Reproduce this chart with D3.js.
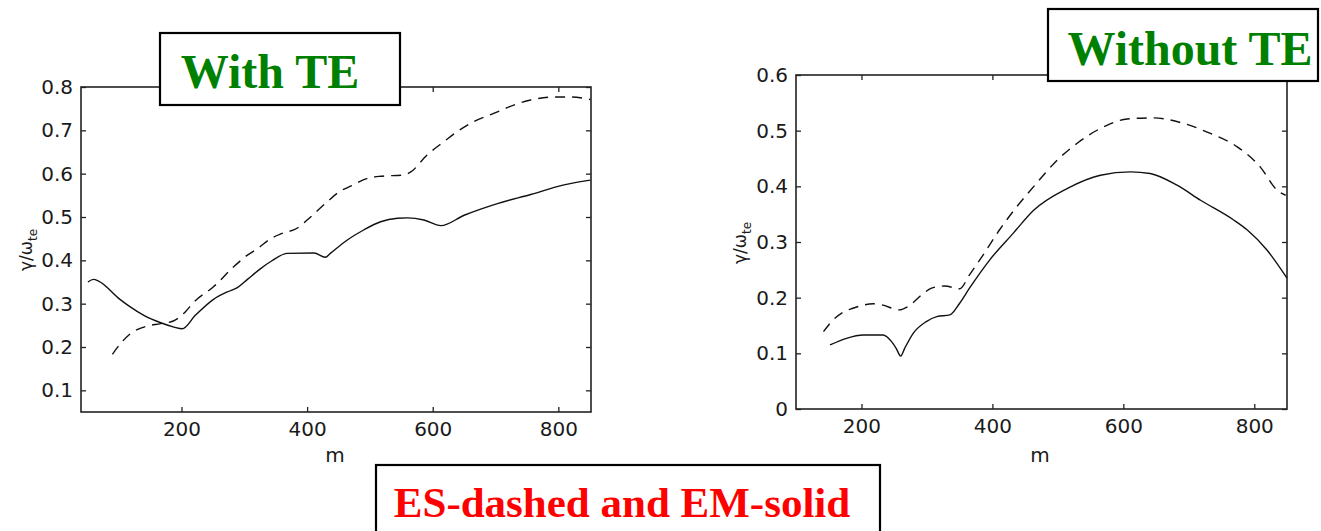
<!DOCTYPE html>
<html>
<head>
<meta charset="utf-8">
<script src="https://cdn.jsdelivr.net/npm/d3@7"></script>
<style>
    body { margin: 0; background: #fff; }
    svg { display: block; }
    .tick text { font-family: "DejaVu Sans", sans-serif; font-size: 20px; fill: #1a1a1a; }
</style>
</head>
<body>
<div id="chart"></div>
<script>
// left panel (with TE)
let withM_es = [90, 103, 119, 140, 167, 187, 206, 220, 251, 283, 305, 321, 342, 360, 384, 400, 432, 451, 469, 496, 517, 554, 565, 591, 618, 639, 665, 697, 734, 756, 793, 819, 840, 851];
let withES = [0.183, 0.208, 0.231, 0.246, 0.254, 0.260, 0.281, 0.304, 0.339, 0.385, 0.412, 0.427, 0.450, 0.462, 0.474, 0.493, 0.535, 0.558, 0.571, 0.589, 0.594, 0.597, 0.604, 0.643, 0.674, 0.697, 0.720, 0.739, 0.761, 0.770, 0.777, 0.777, 0.774, 0.771];
let withM_em = [51, 60, 68, 102, 119, 140, 167, 188, 201, 222, 251, 273, 289, 305, 326, 344, 368, 411, 429, 437, 464, 490, 517, 544, 560, 586, 613, 650, 703, 756, 809, 851];
let withEM = [0.350, 0.356, 0.352, 0.310, 0.292, 0.273, 0.256, 0.246, 0.242, 0.273, 0.310, 0.327, 0.337, 0.356, 0.381, 0.399, 0.416, 0.417, 0.407, 0.416, 0.447, 0.470, 0.489, 0.497, 0.498, 0.493, 0.480, 0.504, 0.531, 0.552, 0.574, 0.585];

// right panel (without TE)
let woM_es = [142, 152, 172, 187, 218, 231, 258, 271, 292, 307, 327, 350, 365, 386, 411, 437, 467, 499, 529, 565, 606, 646, 692, 733, 774, 809, 835, 848];
let woES = [0.139, 0.154, 0.174, 0.181, 0.189, 0.187, 0.178, 0.184, 0.205, 0.217, 0.221, 0.216, 0.241, 0.277, 0.322, 0.363, 0.405, 0.447, 0.477, 0.504, 0.521, 0.523, 0.513, 0.495, 0.471, 0.435, 0.393, 0.384];
let woM_em = [152, 177, 203, 233, 246, 253, 260, 266, 279, 299, 315, 335, 350, 365, 396, 432, 463, 514, 565, 611, 641, 682, 718, 768, 789, 819, 850];
let woEM = [0.115, 0.127, 0.133, 0.133, 0.121, 0.109, 0.095, 0.109, 0.136, 0.157, 0.166, 0.169, 0.190, 0.217, 0.268, 0.316, 0.357, 0.396, 0.420, 0.426, 0.423, 0.402, 0.375, 0.340, 0.322, 0.286, 0.235];

let xTicks = [200, 400, 600, 800];
let withYTicks = [0.1, 0.2, 0.3, 0.4, 0.5, 0.6, 0.7, 0.8];
let woYTicks = [0, 0.1, 0.2, 0.3, 0.4, 0.5, 0.6];

let svg = d3.select('#chart').append('svg')
    .attr('width', 1321)
    .attr('height', 531);

function zip(xs, ys){
    return xs.map((x, i) => [x, ys[i]]);
}

/**
 * Draws one matlab style panel: framed box, inward ticks, dashed ES and solid EM curves
 */
function drawPanel(opts){
    let x = d3.scaleLinear().domain(opts.xDomain).range([opts.left, opts.right]);
    let y = d3.scaleLinear().domain(opts.yDomain).range([opts.bottom, opts.top]);
    let g = svg.append('g');

    let yFmt = d => d === 0 ? '0' : d3.format('.1f')(d);

    g.append('g')
        .attr('transform', `translate(0,${opts.bottom})`)
        .call(d3.axisBottom(x).tickValues(xTicks).tickSize(-5).tickPadding(10))
        .call(a => a.select('.domain').remove());
    g.append('g')
        .attr('transform', `translate(0,${opts.top})`)
        .call(d3.axisTop(x).tickValues(xTicks).tickSize(-5).tickFormat(''))
        .call(a => a.select('.domain').remove());
    g.append('g')
        .attr('transform', `translate(${opts.left},0)`)
        .call(d3.axisLeft(y).tickValues(opts.yTicks).tickSize(-5).tickPadding(8).tickFormat(yFmt))
        .call(a => a.select('.domain').remove());
    g.append('g')
        .attr('transform', `translate(${opts.right},0)`)
        .call(d3.axisRight(y).tickValues(opts.yTicks).tickSize(-5).tickFormat(''))
        .call(a => a.select('.domain').remove());
    g.selectAll('.tick line').attr('stroke', '#222').attr('stroke-width', 1.3);

    g.append('rect')
        .attr('x', opts.left)
        .attr('y', opts.top)
        .attr('width', opts.right - opts.left)
        .attr('height', opts.bottom - opts.top)
        .attr('fill', 'none')
        .attr('stroke', '#222')
        .attr('stroke-width', 1.6);

    let line = d3.line()
        .x(d => x(d[0]))
        .y(d => y(d[1]))
        .curve(d3.curveMonotoneX);

    g.append('path')
        .datum(zip(opts.esM, opts.es))
        .attr('d', line)
        .attr('fill', 'none')
        .attr('stroke', '#111')
        .attr('stroke-width', 1.4)
        .attr('stroke-dasharray', '10,7');

    g.append('path')
        .datum(zip(opts.emM, opts.em))
        .attr('d', line)
        .attr('fill', 'none')
        .attr('stroke', '#111')
        .attr('stroke-width', 1.4);

    // x label
    g.append('text')
        .attr('x', opts.mX)
        .attr('y', 462)
        .attr('text-anchor', 'middle')
        .style('font-family', '"DejaVu Sans", sans-serif')
        .style('font-size', '20px')
        .attr('fill', '#1a1a1a')
        .text('m');

    // y label gamma/omega_te, rotated
    let yl = g.append('text')
        .attr('transform', `translate(${opts.yLabX},${opts.yLabY}) rotate(-90)`)
        .attr('text-anchor', 'middle')
        .style('font-family', '"DejaVu Sans", sans-serif')
        .style('font-size', '17px')
        .attr('fill', '#1a1a1a');
    yl.append('tspan').text('γ/ω');
    yl.append('tspan').attr('dy', 5).style('font-size', '12px').text('te');
}

drawPanel({
    left: 81, right: 591, top: 87, bottom: 412,
    xDomain: [40, 852], yDomain: [0.05, 0.8], yTicks: withYTicks,
    esM: withM_es, es: withES, emM: withM_em, em: withEM,
    mX: 335, yLabX: 32, yLabY: 250
});

drawPanel({
    left: 796, right: 1287, top: 75, bottom: 409,
    xDomain: [100, 850], yDomain: [0, 0.6], yTicks: woYTicks,
    esM: woM_es, es: woES, emM: woM_em, em: woEM,
    mX: 1040, yLabX: 746, yLabY: 243
});

function labelBox(x, y, w, h, txt, color, size, tx, ty){
    svg.append('rect')
        .attr('x', x).attr('y', y)
        .attr('width', w).attr('height', h)
        .attr('fill', '#fff')
        .attr('stroke', '#000')
        .attr('stroke-width', 2.2);
    svg.append('text')
        .attr('x', tx).attr('y', ty)
        .attr('text-anchor', 'middle')
        .style('font-family', '"Liberation Serif", "Times New Roman", serif')
        .style('font-weight', 'bold')
        .style('font-size', size + 'px')
        .attr('fill', color)
        .text(txt);
}

labelBox(160, 33, 240, 72, 'With TE', '#008000', 48, 270, 88);
labelBox(1048, 9, 270, 72, 'Without TE', '#008000', 48, 1190, 65);
labelBox(376, 465, 504, 80, 'ES-dashed and EM-solid', '#ff0000', 43, 622, 517);
</script>
</body>
</html>
